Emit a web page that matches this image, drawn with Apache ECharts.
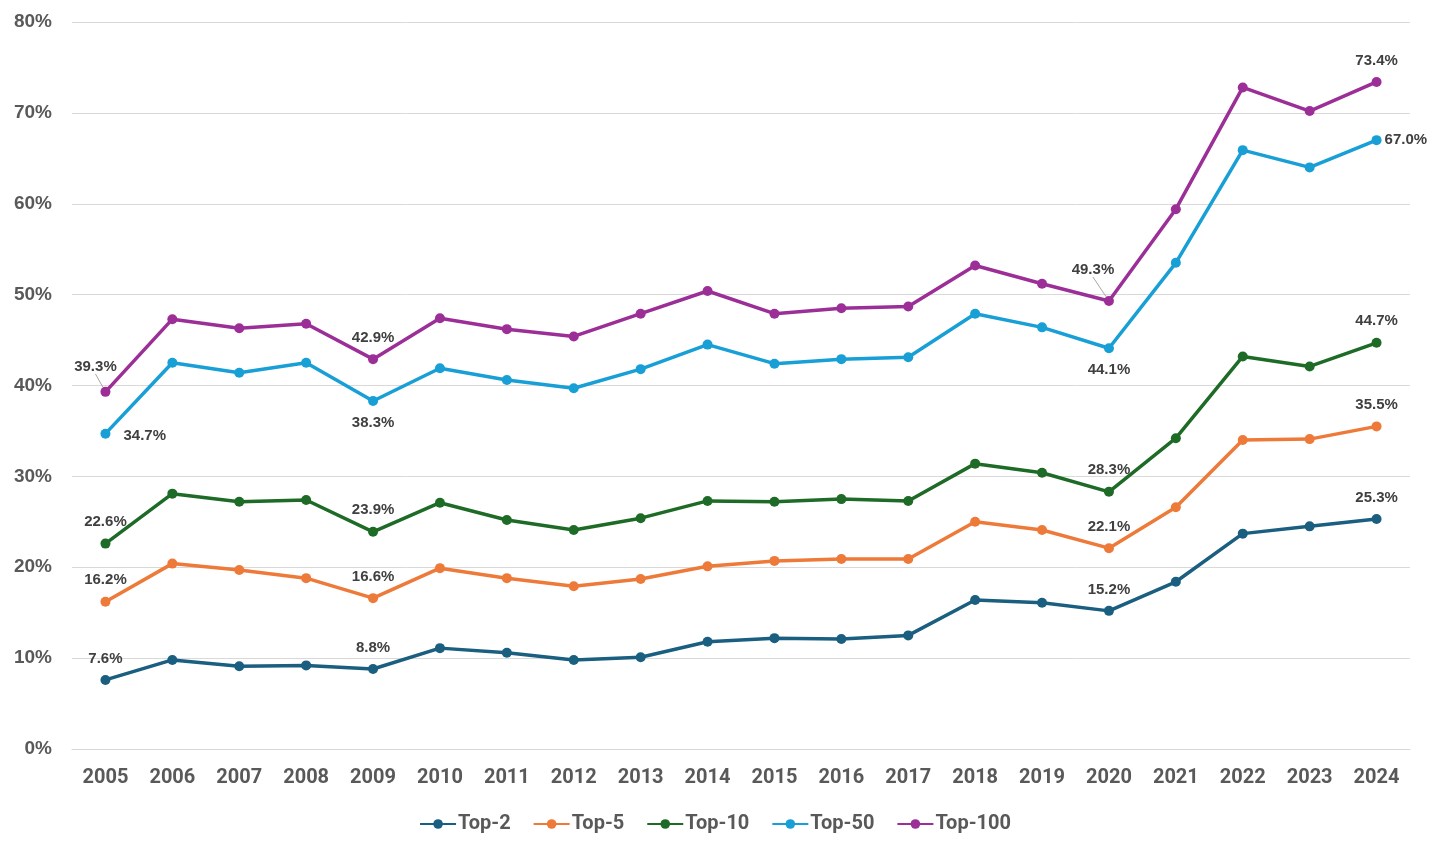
<!DOCTYPE html>
<html>
<head>
<meta charset="utf-8">
<script src="https://cdn.jsdelivr.net/npm/echarts@6/dist/echarts.min.js"></script>
<style>
html,body{margin:0;padding:0;background:#fff;}
#chart{width:1430px;height:853px;}
</style>
</head>
<body>
<div id="chart"></div>
<script>
const years = ['2005','2006','2007','2008','2009','2010','2011','2012','2013','2014','2015','2016','2017','2018','2019','2020','2021','2022','2023','2024'];
const top2   = [7.6, 9.8, 9.1, 9.2, 8.8, 11.1, 10.6, 9.8, 10.1, 11.8, 12.2, 12.1, 12.5, 16.4, 16.1, 15.2, 18.4, 23.7, 24.5, 25.3];
const top5   = [16.2, 20.4, 19.7, 18.8, 16.6, 19.9, 18.8, 17.9, 18.7, 20.1, 20.7, 20.9, 20.9, 25.0, 24.1, 22.1, 26.6, 34.0, 34.1, 35.5];
const top10  = [22.6, 28.1, 27.2, 27.4, 23.9, 27.1, 25.2, 24.1, 25.4, 27.3, 27.2, 27.5, 27.3, 31.4, 30.4, 28.3, 34.2, 43.2, 42.1, 44.7];
const top50  = [34.7, 42.5, 41.4, 42.5, 38.3, 41.9, 40.6, 39.7, 41.8, 44.5, 42.4, 42.9, 43.1, 47.9, 46.4, 44.1, 53.5, 65.9, 64.0, 67.0];
const top100 = [39.3, 47.3, 46.3, 46.8, 42.9, 47.4, 46.2, 45.4, 47.9, 50.4, 47.9, 48.5, 48.7, 53.2, 51.2, 49.3, 59.4, 72.8, 70.2, 73.4];
const seriesNames = ['Top-2','Top-5','Top-10','Top-50','Top-100'];
const yTicks = [0,10,20,30,40,50,60,70,80];
const labeledIdx = [0, 4, 15, 19];

const colors = ['#1A5E80','#EE7A3A','#1E6B27','#189FD6','#9C2F97'];
const narrow = 'Roboto,"Liberation Sans",sans-serif';
const labelFont = '"Liberation Sans",Arial,sans-serif';

// label placement (style only) per series per labeled index
const placements = {
  'Top-2':  {0:'top',4:'top',15:'top',19:'top'},
  'Top-5':  {0:'top',4:'top',15:'top',19:'top'},
  'Top-10': {0:'top',4:'top',15:'top',19:'top'},
  'Top-50': {0:'right',4:'bottom',15:'bottom',19:'right'},
  'Top-100':{0:'top',4:'top',15:'top',19:'top'}
};
const offsets = {
  'Top-50': {0:[4,2],19:[-6,0]}
};
// moved labels with a leader line
const moved = {
  'Top-100': {0:[-10,-4], 15:[-16,-10]}
};

function build(name, values){
  return values.map((v,i)=>{
    if(labeledIdx.indexOf(i) < 0) return v;
    const pos = placements[name][i];
    const off = (offsets[name] && offsets[name][i]) || [0,0];
    const item = {value:v, label:{show:true, position:pos, offset:off, distance:9,
      formatter: p => p.value.toFixed(1) + '%'}};
    if(moved[name] && moved[name][i]){
      item.labelLine = {show:true, length2:0, smooth:false, minTurnAngle:0, lineStyle:{color:'#a6a6a6', width:1}};
    } else {
      item.labelLine = {show:false};
    }
    return item;
  });
}

const allData = [top2, top5, top10, top50, top100];
const chart = echarts.init(document.getElementById('chart'));
chart.setOption({
  animation:false,
  color: colors,
  grid:{left:72, right:20, top:22, bottom:104, containLabel:false},
  legend:{
    bottom:14, left:'center', itemWidth:36, itemHeight:12, itemGap:22,
    textStyle:{fontFamily:narrow, fontWeight:'bold', fontSize:20, color:'#595959', padding:[0,0,0,-3]},
    data: seriesNames
  },
  xAxis:{
    type:'category', data:years, boundaryGap:true,
    axisLine:{show:true, lineStyle:{color:'#d9d9d9', width:1}},
    axisTick:{show:false},
    axisLabel:{fontFamily:narrow, fontWeight:'bold', fontSize:20, color:'#595959', margin:19}
  },
  yAxis:{
    type:'value', min:0, max:80, interval:10,
    axisLine:{show:false}, axisTick:{show:false},
    splitLine:{lineStyle:{color:'#d9d9d9', width:1}},
    axisLabel:{fontFamily:labelFont, fontWeight:'bold', fontSize:19, color:'#595959', margin:20,
      formatter: v => v + '%'}
  },
  series: seriesNames.map((n,k)=>{
    const s = {
      name:n, type:'line', data: build(n, allData[k]),
      symbol:'circle', symbolSize:10,
      lineStyle:{width:3.5, color:colors[k]},
      itemStyle:{color:colors[k]},
      label:{show:false, fontFamily:labelFont, fontWeight:'bold', fontSize:15, color:'#404040'},
      z: 2+k
    };
    if(moved[n]){
      s.labelLine = {show:false, lineStyle:{color:'#a6a6a6', width:1}};
      s.labelLayout = function(p){
        const m = moved[n][p.dataIndex];
        if(!m) return {};
        return {dx:m[0], dy:m[1]};
      };
    }
    return s;
  })
});
</script>
</body>
</html>
